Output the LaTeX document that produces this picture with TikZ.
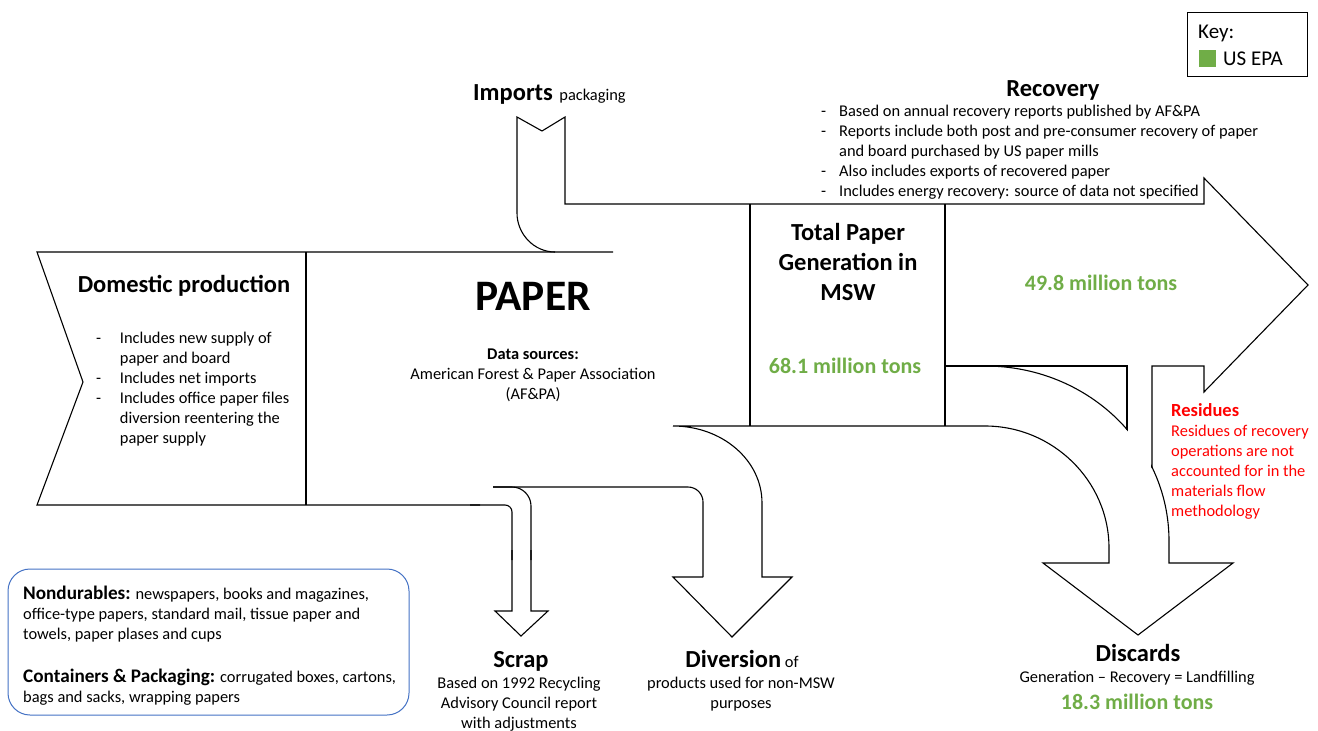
\documentclass[tikz,border=0pt]{standalone}
\usepackage{fontspec}
\setmainfont{Carlito}
\usetikzlibrary{positioning}
\definecolor{cgreen}{HTML}{70AD47}
\definecolor{cred}{HTML}{FF0000}
\definecolor{cblue}{HTML}{4472C4}
\newcommand{\bulletdash}[1][18pt]{\makebox[#1][l]{-}}
\newcommand{\bulletgap}[1][18pt]{\hspace*{#1}}

\begin{document}
\begin{tikzpicture}[x=1pt, y=-1pt,
  flow/.style={line width=1.1pt},
  head/.style={font=\fontsize{24.5}{30}\selectfont\bfseries, inner sep=0pt},
  body/.style={font=\fontsize{16.4}{20}\selectfont, inner sep=0pt},
  num/.style={font=\fontsize{22}{26}\selectfont\bfseries, cgreen, inner sep=0pt}]
  \useasboundingbox (0,0) rectangle (1318,731);

  \draw[flow] (613,252) -- (37,252) -- (83,382) -- (37,505) -- (480,505);
  \draw[flow] (306,252) -- (306,505);
  \draw[flow, rounded corners=7pt] (470,505) -- (512,505) -- (512,560);
  \draw[flow] (512,550) -- (512,611) -- (495,611) -- (521,636) -- (548,611) -- (531,611) -- (531,550);
  \draw[flow, rounded corners=19pt] (531,560) -- (531,487) -- (493,487);
  \draw[flow, rounded corners=15pt] (493,487) -- (703,487) -- (703,577);
  \draw[flow] (703,577) -- (673,577) -- (732,637) -- (792,577) -- (762,577) -- (762,503)
    .. controls (762,460) and (722,426) .. (673,426) -- (985,426)
    .. controls (1053,426) and (1109,481) .. (1109,548) -- (1109,563) -- (1043,563)
    -- (1138,635) -- (1233,563) -- (1169,563) -- (1169,541)
    .. controls (1169,444) and (1087,366) .. (985,366);
  \fill[white] (1128,367) rectangle (1151,480);
  \draw[flow] (555,252) .. controls (534,252) and (517,234) .. (517,213) -- (517,117)
    -- (542,131) -- (565,117) -- (565,204) -- (1204,204) -- (1204,178) -- (1308,285)
    -- (1204,392) -- (1204,366) -- (1152,366) -- (1152,468);
  \draw[flow] (750,204) -- (750,426);
  \draw[flow] (945,204) -- (945,426);
  \draw[flow] (945,366) -- (1127,366) -- (1127,430);

  \draw[line width=0.8pt] (1187,12) rectangle (1307,76);
  \fill[cgreen] (1199,50) rectangle (1216,67);
  \draw[cblue, line width=1pt, rounded corners=22pt] (8,569) rectangle (409,715);

  \node[head, anchor=base] (dom) at (184,292) {Domestic production};
  \node[body, anchor=north west, align=left] (domnotes) at (96,329.5) {\strut\bulletdash[20pt] Includes new supply of\\
    \bulletgap[20pt] paper and board\\ \bulletdash[20pt] Includes net imports\\ \bulletdash[20pt] Includes office paper files\\
    \bulletgap[20pt] diversion reentering the\\ \bulletgap[20pt] paper supply};
  \node[font=\fontsize{43.5}{50}\selectfont\bfseries, inner sep=0pt, anchor=base] (paper) at (533,310) {PAPER};
  \node[body, anchor=north, align=center] (sources) at (533,345.5) {\strut\textbf{Data sources:}\\
    American Forest \& Paper Association\\ (AF\&PA)};
  \node[body, anchor=base west] (imports) at (473,100) {{\fontsize{24.5}{30}\selectfont\bfseries Imports}\, packaging};
  \node[head, anchor=base] (recovery) at (1053,96) {Recovery};
  \node[body, anchor=north west, align=left] (recnotes) at (821,102.5) {\strut\bulletdash Based on annual recovery reports published by AF\&PA\\
    \bulletdash Reports include both post and pre-consumer recovery of paper\\
    \bulletgap and board purchased by US paper mills\\
    \bulletdash Also includes exports of recovered paper\\
    \bulletdash Includes energy recovery: source of data not specified};
  \node[head, anchor=north, align=center] (total) at (848,219) {\strut Total Paper\\ Generation in\\ MSW};
  \node[num, anchor=base] (gen) at (845,373) {68.1 million tons};
  \node[num, anchor=base] (rec) at (1101,290) {49.8 million tons};
  \node[font=\fontsize{18.5}{22}\selectfont\bfseries, text=cred, inner sep=0pt, anchor=base west] (res) at (1171,416) {Residues};
  \node[body, text=cred, anchor=north west, align=left] (resnote) at (1171,422.5) {\strut Residues of recovery\\
    operations are not\\ accounted for in the\\ materials flow\\ methodology};
  \node[head, anchor=base] (scrap) at (521,667) {Scrap};
  \node[body, anchor=north, align=center] (scrapnote) at (519,674.5) {\strut Based on 1992 Recycling\\
    Advisory Council report\\ with adjustments};
  \node[body, anchor=base] (div) at (742,667) {{\fontsize{24.5}{30}\selectfont\bfseries Diversion} of};
  \node[body, anchor=north, align=center] (divnote) at (741,674.5) {\strut products used for non-MSW\\ purposes};
  \node[head, anchor=base] (disc) at (1138,661) {Discards};
  \node[body, anchor=base] (discnote) at (1137,682.5) {Generation – Recovery = Landfilling};
  \node[num, anchor=base] (land) at (1137,709) {18.3 million tons};

  \node[font=\fontsize{21}{24}\selectfont, inner sep=0pt, anchor=base west] (key) at (1198,38) {Key:};
  \node[font=\fontsize{21}{24}\selectfont, inner sep=0pt, anchor=base west] (epa) at (1223,65) {US EPA};

  \node[body, anchor=north west, align=left] (nondur) at (23,585.5) {\strut{\fontsize{19.2}{20}\selectfont\bfseries Nondurables:}
    newspapers, books and magazines,\\ office-type papers, standard mail, tissue paper and\\ towels, paper plases and cups};
  \node[body, anchor=north west, align=left] (contain) at (23,668.5) {\strut{\fontsize{19.2}{20}\selectfont\bfseries Containers \& Packaging:}
    corrugated boxes, cartons,\\ bags and sacks, wrapping papers};
\end{tikzpicture}
\end{document}
